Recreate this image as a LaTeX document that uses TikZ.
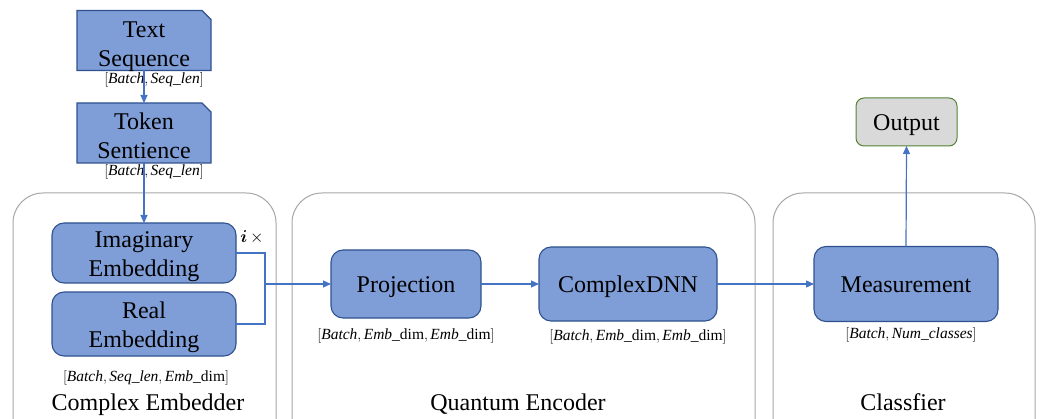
\documentclass[tikz,border=0pt]{standalone}
\usepackage{fontspec}
\setmainfont{Liberation Serif}
\usepackage{amsmath,bm}
\usetikzlibrary{arrows.meta,backgrounds}

\definecolor{boxfill}{RGB}{127,157,214}
\definecolor{boxline}{RGB}{47,82,143}
\definecolor{wire}{RGB}{68,114,196}
\definecolor{framegray}{RGB}{166,166,166}
\definecolor{outfill}{RGB}{217,217,217}
\definecolor{outedge}{RGB}{84,130,53}

\newcommand\blkfont{\fontsize{24}{29}\selectfont}
\newcommand\dimfont{\fontsize{15.5}{18}\selectfont}
% two centred lines, moved down by #1 without changing the node size
\newcommand\twolines[2]{\raisebox{#1}[\height][\depth]{\begin{tabular}{@{}c@{}}#2\end{tabular}}}

\begin{document}
\begin{tikzpicture}[x=1pt,y=-1pt,
  every node/.style={inner sep=0pt, outer sep=0pt},
  block/.style={draw=boxline, fill=boxfill, line width=1.1pt,
    rounded corners=12pt, align=center, font=\blkfont},
  oneline/.style={text height=18pt, text depth=0pt},
  doc/.style={align=center, font=\blkfont},
  docshape/.style={draw=boxline, fill=boxfill, line width=1.1pt},
  outbox/.style={draw=outedge, fill=outfill, line width=1pt,
    rounded corners=8pt, align=center, font=\blkfont},
  group/.style={draw=framegray, line width=1pt, rounded corners=30pt},
  grouplabel/.style={font=\blkfont, anchor=base},
  dims/.style={font=\dimfont},
  link/.style={draw=wire, line width=1.2pt},
  arrow/.style={link, -{Triangle[length=8pt,width=7pt]}}]

\useasboundingbox (0,0) rectangle (1040,419);
\clip (0,0) rectangle (1040,419);

% group frames (open at the bottom edge)
\node[group, minimum width=263pt, minimum height=260pt, anchor=north west] (ce) at (13,193) {};
\node[group, minimum width=463pt, minimum height=260pt, anchor=north west] (qe) at (292,193) {};
\node[group, minimum width=262pt, minimum height=260pt, anchor=north west] (cl) at (773,193) {};
\node[grouplabel] (celab) at (148,410) {Complex Embedder};
\node[grouplabel] (qelab) at (518,410) {Quantum Encoder};
\node[grouplabel] (cllab) at (903,410) {Classfier};

% input documents
\node[doc, minimum width=134pt, minimum height=60pt] (ts) at (144,40.5) {\twolines{-6pt}{Text\\Sequence}};
\node[doc, minimum width=134pt, minimum height=60pt] (tk) at (144,133) {\twolines{-5.7pt}{Token\\Sentience}};
\begin{pgfonlayer}{background}
  \foreach \n in {ts,tk}
    \draw[docshape] (\n.north west) -- ([xshift=-9pt]\n.north east)
      -- ([yshift=-9pt]\n.north east) -- (\n.south east) -- (\n.south west) -- cycle;
\end{pgfonlayer}
\node[dims] (tsdim) at (154,80) {$[\mathit{Batch}, \mathit{Seq\_len}]$};
\node[dims] (tkdim) at (154,172) {$[\mathit{Batch}, \mathit{Seq\_len}]$};

% complex embedder
\node[block, minimum width=184pt, minimum height=60pt] (ie) at (144,253) {\twolines{-3.5pt}{Imaginary\\Embedding}};
\node[block, minimum width=184pt, minimum height=64pt] (re) at (144,324) {\twolines{-2.7pt}{Real\\Embedding}};
\node[font=\fontsize{19}{21}\selectfont] (imul) at (252,237) {$\bm{i}\,\times$};
\node[dims] (cedim) at (146,378) {$[\mathit{Batch}, \mathit{Seq\_len}, \mathit{Emb}\_\mathrm{dim}]$};
\coordinate (join) at (265,284);

% quantum encoder
\node[block, oneline, minimum width=150pt, minimum height=68pt] (pr) at (406,284) {Projection};
\node[block, oneline, minimum width=178pt, minimum height=74pt] (cd) at (628,284) {ComplexDNN};
\node[dims] (prdim) at (406,336) {$[\mathit{Batch}, \mathit{Emb}\_\mathrm{dim}, \mathit{Emb}\_\mathrm{dim}]$};
\node[dims] (cddim) at (638,337) {$[\mathit{Batch}, \mathit{Emb}\_\mathrm{dim}, \mathit{Emb}\_\mathrm{dim}]$};

% classifier
\node[block, oneline, minimum width=184pt, minimum height=75pt] (ms) at (906,284) {Measurement};
\node[dims] (msdim) at (911,335) {$[\mathit{Batch}, \mathit{Num\_classes}]$};
\node[outbox, oneline, minimum width=101pt, minimum height=48pt] (out) at (906.5,122) {Output};

% connectors
\draw[arrow] (ts.south) -- (tk.north);
\draw[arrow] (tk.south) -- (ie.north);
\draw[link] (ie.east) -| (join) |- (re.east);
\draw[arrow] (join) -- (pr.west);
\draw[arrow] (pr.east) -- (cd.west);
\draw[arrow] (cd.east) -- (ms.west);
\draw[arrow] (ms.north) -- (out.south);
\end{tikzpicture}
\end{document}
